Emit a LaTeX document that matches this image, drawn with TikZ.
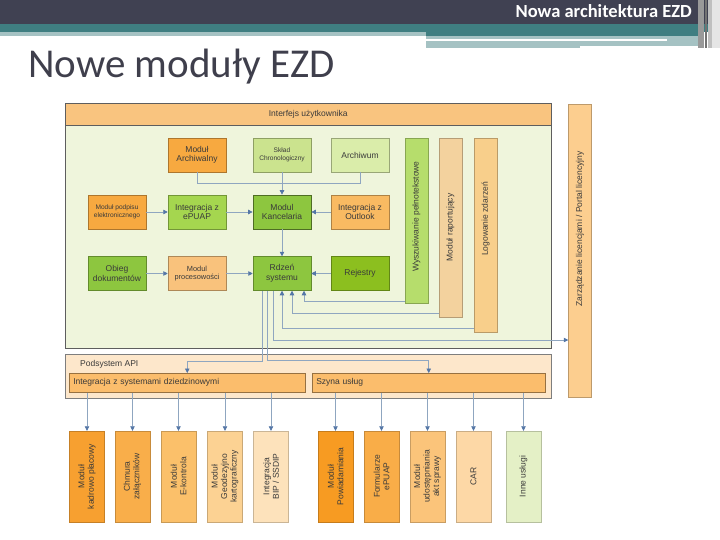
\documentclass[tikz,border=0pt]{standalone}
\usepackage{fontspec}
\setmainfont{Liberation Sans}
\newfontfamily\slidefont{Carlito}
\usepackage{xcolor}
\usetikzlibrary{arrows.meta, positioning}
\definecolor{hdark}{HTML}{404152}
\definecolor{hteal}{HTML}{3F7E81}
\definecolor{hlight}{HTML}{A5C2C3}
\definecolor{titlec}{HTML}{3F3F4C}
\definecolor{txtc}{HTML}{3A3A3A}
\definecolor{panelg}{HTML}{EFF5DC}
\definecolor{edgec}{HTML}{5E5E5E}
\definecolor{stripc}{HTML}{F9C47F}
\definecolor{orA}{HTML}{F7A940}
\definecolor{orB}{HTML}{F9BA62}
\definecolor{orC}{HTML}{F9C27C}
\definecolor{grA}{HTML}{CBE38E}
\definecolor{grB}{HTML}{DAEDAA}
\definecolor{grC}{HTML}{A5D64F}
\definecolor{grD}{HTML}{8DC63F}
\definecolor{grE}{HTML}{8CBF1F}
\definecolor{barW}{HTML}{B6DD6C}
\definecolor{barR}{HTML}{F3D29E}
\definecolor{barL}{HTML}{F8CF8B}
\definecolor{zarzc}{HTML}{FCCE8F}
\definecolor{apic}{HTML}{FDE7CB}
\definecolor{apibar}{HTML}{FBBD6C}
\definecolor{lfA}{HTML}{F7A030}
\definecolor{lfB}{HTML}{F9AE4A}
\definecolor{lfC}{HTML}{FBC06A}
\definecolor{lfD}{HTML}{FCD293}
\definecolor{lfE}{HTML}{FDE2BB}
\definecolor{lfF}{HTML}{F79B22}
\definecolor{lfG}{HTML}{F9AD48}
\definecolor{lfH}{HTML}{FBC47A}
\definecolor{lfI}{HTML}{FDD8A6}
\definecolor{lfJ}{HTML}{E4F0C6}
\definecolor{linec}{HTML}{8FA6C0}
\definecolor{tipc}{HTML}{5476A6}

\begin{document}
\begin{tikzpicture}[
  x=1pt, y=-1pt,
  font=\fontsize{8.5}{9.5}\selectfont, text=txtc,
  mod/.style={rectangle, draw=#1!70!black, fill=#1, line width=0.5pt,
              minimum width=58pt, minimum height=34pt, inner sep=1pt, align=center},
  bar/.style={rectangle, draw=#1!75!black, fill=#1, line width=0.5pt,
              rotate=90, minimum height=23pt, inner sep=1pt},
  leaf/.style={rectangle, draw=#1!80!black, fill=#1, line width=0.4pt, rotate=90,
               minimum width=91pt, minimum height=35pt, inner sep=1pt, align=center},
  small/.style={font=\fontsize{6.6}{7.6}\selectfont},
  conn/.style={draw=linec, line width=0.7pt, -{Triangle[length=4.5pt, width=4.5pt, color=tipc]}},
  feed/.style={draw=linec, line width=0.7pt},
]
\useasboundingbox (0,0) rectangle (720,540);

% slide header
\fill[hdark] (0,0) rectangle (720,24);
\fill[hteal] (0,24) rectangle (720,32);
\fill[hlight] (0,32) rectangle (426,36);
\fill[hteal] (426,32) rectangle (698,36.5);
\fill[hlight] (426,36.5) rectangle (698,46);
\fill[hlight] (426,46) rectangle (580,48);
\fill[white] (426,39.5) rectangle (667,41.2);
\fill[black!40] (698,0) rectangle (704,48);
\fill[black!55] (705,0) rectangle (707,48);
\fill[black!25] (708,0) rectangle (712,48);
\fill[black!10] (712,0) rectangle (720,48);
\node[anchor=base east, inner sep=0, text=white,
      font=\slidefont\bfseries\fontsize{18.5}{18.5}\selectfont] (slide) at (692,18) {Nowa architektura EZD};
\node[anchor=base west, inner sep=0, text=titlec,
      font=\slidefont\fontsize{41}{41}\selectfont] (title) at (28,78) {Nowe moduły EZD};

% user interface panel
\node[rectangle, draw=edgec, fill=panelg, line width=0.7pt, anchor=north west,
      minimum width=486pt, minimum height=245pt] (ui) at (65,103) {};
\node[rectangle, draw=edgec, fill=stripc, line width=0.5pt, anchor=north west,
      minimum width=486pt, minimum height=22pt] (uihead) at (65,103) {Interfejs użytkownika};

\node[mod=orA] (archiwalny) at (197,155) {Moduł\\Archiwalny};
\node[mod=grA, small] (sklad) at (282,155) {Skład\\Chronologiczny};
\node[mod=grB] (archiwum) at (360,155) {Archiwum};

\node[mod=orA, small] (podpis) at (117,212) {Moduł podpisu\\elektronicznego};
\node[mod=grC] (epuap) at (197,212) {Integracja z\\ePUAP};
\node[mod=grD, draw=grD!55!black, line width=0.7pt] (kancelaria) at (282,212) {Modul\\Kancelaria};
\node[mod=orB] (outlook) at (360,212) {Integracja z\\Outlook};

\node[mod=grD] (obieg) at (117,273.5) {Obieg\\dokumentów};
\node[mod=orC, font=\fontsize{7.4}{8.6}\selectfont] (proces) at (197,273.5) {Modul\\procesowości};
\node[mod=grD] (rdzen) at (282,273.5) {Rdzeń\\systemu};
\node[mod=grE] (rejestry) at (360,273.5) {Rejestry};

\node[bar=barW, minimum width=165pt] (wysz) at (416.5,220.5) {\hspace*{8pt}Wyszukiwanie pełnotekstowe};
\node[bar=barR, minimum width=179pt] (raport) at (450.5,227.5) {Moduł raportujący};
\node[bar=barL, minimum width=194pt] (logi) at (485.5,235) {\hspace*{32pt}Logowanie zdarzeń};

\node[bar=zarzc, minimum width=293pt, minimum height=23pt] (zarz) at (580,251)
  {\hspace*{44pt}Zarządzanie licencjami / Portal licencyjny};

% API subsystem
\node[rectangle, draw=edgec!80, fill=apic, line width=0.6pt, anchor=north west,
      minimum width=486pt, minimum height=44pt] (api) at (65,354) {};
\node[anchor=west, inner sep=0] (apilbl) at (80,364) {Podsystem API};
\node[rectangle, draw=apibar!60!black, fill=apibar, line width=0.5pt, anchor=north west,
      minimum width=236pt, minimum height=19pt, text width=228pt, inner sep=4pt, align=left] (integ) at (69,373)
      {Integracja z systemami dziedzinowymi};
\node[rectangle, draw=apibar!60!black, fill=apibar, line width=0.5pt, anchor=north west,
      minimum width=233pt, minimum height=19pt, text width=225pt, inner sep=4pt, align=left] (szyna) at (312,373)
      {Szyna usług};

% leaf modules
\node[leaf=lfA] (k1) at (87,476.5) {Moduł\\kadrowo płacowy};
\node[leaf=lfB] (k2) at (132.5,476.5) {Chmura\\załączników};
\node[leaf=lfC] (k3) at (178.5,476.5) {Moduł\\E-kontrola};
\node[leaf=lfD] (k4) at (225,476.5) {Moduł\\Geodezyjno\\kartograficzny};
\node[leaf=lfE] (k5) at (271,476.5) {Integracja\\BIP / SSDIP};
\node[leaf=lfF] (s1) at (335.5,476.5) {Moduł\\Powiadamiania};
\node[leaf=lfG] (s2) at (381.5,476.5) {Formularze\\ePUAP};
\node[leaf=lfH] (s3) at (427.5,476.5) {Moduł\\udostępniania\\akt sprawy};
\node[leaf=lfI] (s4) at (473.5,476.5) {CAR};
\node[leaf=lfJ] (s5) at (523.5,476.5) {Inne usługi};

% connectors inside the panel
\draw[feed] (archiwalny.south) -- ++(0,11) -| (archiwum.south);
\draw[conn] (sklad) -- (kancelaria);
\draw[conn] (podpis) -- (epuap);
\draw[conn] (epuap) -- (kancelaria);
\draw[conn] (outlook) -- (kancelaria);
\draw[conn] (kancelaria) -- (rdzen);
\draw[conn] (obieg) -- (proces);
\draw[conn] (proces) -- (rdzen);
\draw[conn] (rejestry) -- (rdzen);
\draw[conn] ([yshift=2pt]wysz.north west) -| ([xshift=22pt]rdzen.south);
\draw[conn] ([yshift=4pt]raport.north west) -| ([xshift=10pt]rdzen.south);
\draw[conn] ([yshift=4pt]logi.north west) -| (rdzen.south);
\draw[conn] ([xshift=-9pt]rdzen.south) |- ([yshift=-89pt]zarz.north);
\draw[conn] ([xshift=-20pt]rdzen.south) |- ([yshift=12pt]integ.north) -- (integ.north);
\draw[conn] ([xshift=-15pt]rdzen.south) |- ([yshift=13pt]szyna.north) -- (szyna.north);

% connectors to the leaf modules
\draw[conn] (integ.south -| k1.east) -- (k1.east);
\draw[conn] (integ.south -| k2.east) -- (k2.east);
\draw[conn] (integ.south -| k3.east) -- (k3.east);
\draw[conn] (integ.south -| k4.east) -- (k4.east);
\draw[conn] (integ.south -| k5.east) -- (k5.east);
\draw[conn] (szyna.south -| s1.east) -- (s1.east);
\draw[conn] (szyna.south -| s2.east) -- (s2.east);
\draw[conn] (szyna.south -| s3.east) -- (s3.east);
\draw[conn] (szyna.south -| s4.east) -- (s4.east);
\draw[conn] (szyna.south -| s5.east) -- (s5.east);
\end{tikzpicture}
\end{document}
